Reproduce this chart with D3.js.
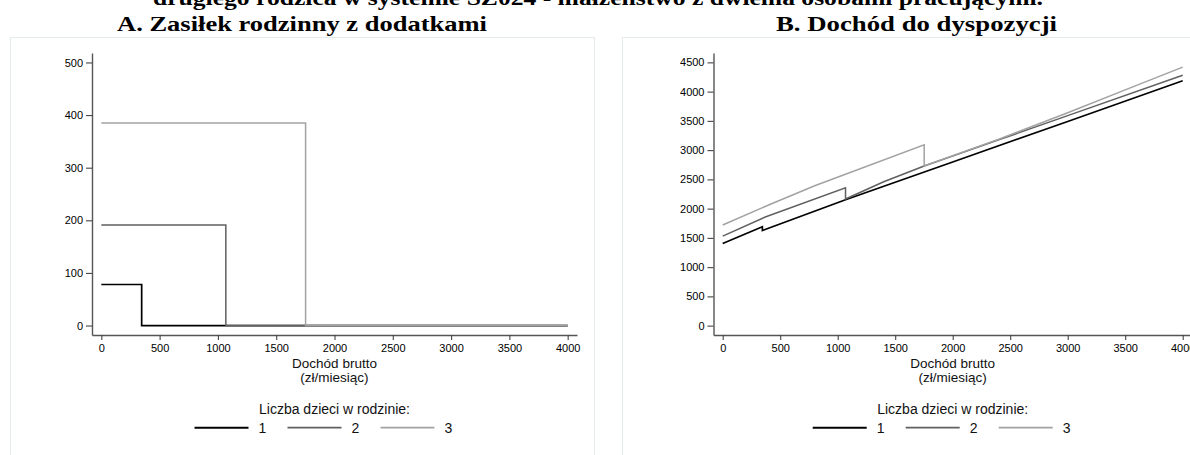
<!DOCTYPE html>
<html>
<head>
<meta charset="utf-8">
<script src="https://cdn.jsdelivr.net/npm/d3@7"></script>
<style>
  html, body { margin: 0; padding: 0; background: #fff; }
  svg { display: block; }
</style>
</head>
<body>
<svg id="chart" width="1190" height="455"></svg>
<script>
// Gross monthly income of the second parent (x axis, both panels)
const incomeTicks = [0, 500, 1000, 1500, 2000, 2500, 3000, 3500, 4000];
// Panel A: family benefit with supplements, y ticks
const benefitTicks = [0, 100, 200, 300, 400, 500];
// Panel B: disposable income, y ticks
const disposableTicks = [0, 500, 1000, 1500, 2000, 2500, 3000, 3500, 4000, 4500];

// Legend categories: number of children in the family
const childCounts = ["1", "2", "3"];

// Panel A series: [gross income, benefit]
const benefitOne   = [[0, 78], [346, 78], [346, 0], [4000, 0]];
const benefitTwo   = [[0, 191], [1068, 191], [1068, 0], [4000, 0]];
const benefitThree = [[0, 385], [1752, 385], [1752, 0], [4000, 0]];

// Panel B series: [gross income, disposable income]
const disposableOne   = [[0, 1405], [345, 1690], [345, 1627], [1068, 2152], [2000, 2798], [3000, 3490], [4000, 4185]];
const disposableTwo   = [[0, 1530], [370, 1856], [1068, 2355], [1068, 2165], [1400, 2460], [1752, 2728], [2400, 3175], [3000, 3590], [4000, 4281]];
const disposableThree = [[0, 1720], [420, 2080], [800, 2390], [1752, 3090], [1752, 2728], [2400, 3185], [3000, 3640], [3500, 4030], [4000, 4418]];

const seriesColors = ["#000000", "#606060", "#a2a2a2"];
const seriesWidths = [1.7, 1.5, 1.5];

const svg = d3.select("#chart");
const sans = "'Liberation Sans', Arial, sans-serif";
const serif = "'Liberation Serif', 'Times New Roman', serif";

// Overall heading (its upper part runs off the top edge)
svg.append("text")
  .attr("x", 598).attr("y", 5)
  .attr("text-anchor", "middle")
  .attr("font-family", serif).attr("font-weight", "bold").attr("font-size", 22)
  .attr("textLength", 890).attr("lengthAdjust", "spacingAndGlyphs")
  .text("drugiego rodzica w systemie SZ024 - małżeństwo z dwiema osobami pracującymi.");

function drawPanel(cfg) {
  // faint frame of the graph region
  svg.append("rect")
    .attr("x", cfg.frame[0] + 0.5).attr("y", 37.5)
    .attr("width", cfg.frame[1]).attr("height", 440)
    .attr("fill", "none").attr("stroke", "#e4ebeb").attr("stroke-width", 1);

  svg.append("text")
    .attr("x", cfg.titleX).attr("y", 31)
    .attr("text-anchor", "middle")
    .attr("font-family", serif).attr("font-weight", "bold").attr("font-size", 22)
    .attr("textLength", cfg.titleLen).attr("lengthAdjust", "spacingAndGlyphs")
    .text(cfg.title);

  const x = d3.scaleLinear().domain([-80, 4080]).range(cfg.xRange);
  const y = d3.scaleLinear().domain(cfg.yDomain).range([335, 53]);

  const g = svg.append("g");

  const xAxis = g.append("g")
    .attr("transform", "translate(0,335)")
    .call(d3.axisBottom(x).tickValues(incomeTicks).tickFormat(d3.format("d"))
      .tickSize(5).tickPadding(4).tickSizeOuter(0));
  const yAxis = g.append("g")
    .attr("transform", `translate(${cfg.xRange[0]},0)`)
    .call(d3.axisLeft(y).tickValues(cfg.yTicks).tickFormat(d3.format("d"))
      .tickSize(6).tickPadding(3).tickSizeOuter(0));

  [xAxis, yAxis].forEach(a => {
    a.select(".domain").attr("stroke", "#555").attr("stroke-width", 1.4);
    a.selectAll(".tick line").attr("stroke", "#444").attr("stroke-width", 1.1);
    a.selectAll(".tick text").attr("font-family", sans).attr("font-size", 11).attr("fill", "#000");
  });

  const line = d3.line().x(d => x(d[0])).y(d => y(d[1]));
  cfg.series.forEach((s, i) => {
    g.append("path")
      .datum(s)
      .attr("d", line)
      .attr("fill", "none")
      .attr("stroke", seriesColors[i])
      .attr("stroke-width", seriesWidths[i])
      .attr("stroke-linejoin", "miter");
  });

  const cx = (cfg.xRange[0] + Math.min(cfg.xRange[1], 1192)) / 2;

  // axis title, two lines
  svg.append("text")
    .attr("x", cx).attr("y", 368)
    .attr("text-anchor", "middle")
    .attr("font-family", sans).attr("font-size", 13.5).attr("fill", "#111")
    .text("Dochód brutto");
  svg.append("text")
    .attr("x", cx).attr("y", 382)
    .attr("text-anchor", "middle")
    .attr("font-family", sans).attr("font-size", 13.5).attr("fill", "#111")
    .text("(zł/miesiąc)");

  // legend
  svg.append("text")
    .attr("x", cx).attr("y", 414)
    .attr("text-anchor", "middle")
    .attr("font-family", sans).attr("font-size", 14).attr("fill", "#111")
    .text("Liczba dzieci w rodzinie:");

  const legend = svg.append("g");
  childCounts.forEach((c, i) => {
    const x0 = cx - 140 + 93 * i;
    legend.append("line")
      .attr("x1", x0).attr("x2", x0 + 54)
      .attr("y1", 427.7).attr("y2", 427.7)
      .attr("stroke", seriesColors[i]).attr("stroke-width", seriesWidths[i] + 0.2);
    legend.append("text")
      .attr("x", x0 + 68).attr("y", 433)
      .attr("text-anchor", "middle")
      .attr("font-family", sans).attr("font-size", 14).attr("fill", "#111")
      .text(c);
  });
}

drawPanel({
  frame: [10, 584],
  title: "A. Zasiłek rodzinny z dodatkami",
  titleX: 302, titleLen: 370,
  xRange: [92, 577],
  yDomain: [-18, 518],
  yTicks: benefitTicks,
  series: [benefitOne, benefitTwo, benefitThree]
});

drawPanel({
  frame: [622, 600],
  title: "B. Dochód do dyspozycji",
  titleX: 916.5, titleLen: 281,
  xRange: [713.5, 1191.9],
  yDomain: [-160, 4660],
  yTicks: disposableTicks,
  series: [disposableOne, disposableTwo, disposableThree]
});
</script>
</body>
</html>
